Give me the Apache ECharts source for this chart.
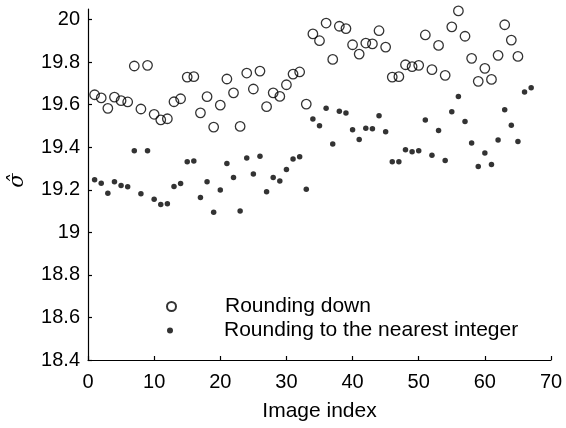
<!DOCTYPE html>
<html>
<head>
<meta charset="utf-8">
<script src="https://cdn.jsdelivr.net/npm/echarts@6/dist/echarts.min.js"></script>
<style>html,body{margin:0;padding:0;background:#fff}#c{width:566px;height:428px}</style>
</head>
<body>
<div id="c"></div>
<script>
const imageIndex = [1,2,3,4,5,6,7,8,9,10,11,12,13,14,15,16,17,18,19,20,21,22,23,24,25,26,27,28,29,30,31,32,33,34,35,36,37,38,39,40,41,42,43,44,45,46,47,48,49,50,51,52,53,54,55,56,57,58,59,60,61,62,63,64,65,66,67];
const roundingDown = [19.647,19.632,19.583,19.636,19.619,19.613,19.782,19.580,19.785,19.555,19.529,19.534,19.614,19.628,19.730,19.732,19.562,19.638,19.495,19.598,19.721,19.656,19.498,19.749,19.674,19.758,19.591,19.656,19.639,19.694,19.744,19.754,19.603,19.933,19.901,19.984,19.813,19.969,19.958,19.882,19.838,19.890,19.886,19.948,19.871,19.730,19.732,19.788,19.779,19.785,19.928,19.765,19.879,19.738,19.966,20.041,19.922,19.818,19.710,19.771,19.719,19.832,19.976,19.904,19.827,null,null];
const roundingNearest = [19.247,19.231,19.184,19.238,19.220,19.214,19.384,19.181,19.384,19.156,19.131,19.134,19.216,19.230,19.332,19.335,19.164,19.238,19.095,19.199,19.324,19.258,19.100,19.350,19.274,19.358,19.191,19.258,19.241,19.296,19.345,19.355,19.203,19.533,19.501,19.584,19.415,19.569,19.561,19.482,19.437,19.490,19.487,19.548,19.473,19.332,19.332,19.388,19.379,19.384,19.528,19.363,19.479,19.338,19.567,19.639,19.521,19.420,19.310,19.373,19.319,19.434,19.576,19.504,19.427,19.660,19.680];
const yTicks = [18.4,18.6,18.8,19,19.2,19.4,19.6,19.8,20];
const xTicks = [0,10,20,30,40,50,60,70];
const seriesNames = ['Rounding down','Rounding to the nearest integer'];

const font = 'Liberation Sans, Arial, Helvetica, sans-serif';
const pairs = arr => imageIndex.map((x,i)=>[x, arr[i]]).filter(p=>p[1]!=null);

const chart = echarts.init(document.getElementById('c'), null, {renderer:'canvas'});
chart.setOption({
  animation:false,
  backgroundColor:'#fff',
  grid:{left:88,right:15,top:9,bottom:68,outerBoundsMode:'none'},
  xAxis:{
    type:'value', min:xTicks[0], max:xTicks[xTicks.length-1], interval:10,
    name:'Image index', nameLocation:'middle', nameGap:41,
    nameTextStyle:{fontFamily:font,fontSize:21,color:'#000'},
    axisLine:{show:true,lineStyle:{color:'#000',width:1.2}},
    axisTick:{show:true,inside:true,length:4,lineStyle:{color:'#000',width:1.2}},
    axisLabel:{fontFamily:font,fontSize:20,color:'#000',margin:12},
    splitLine:{show:false}
  },
  yAxis:{
    type:'value', min:yTicks[0], max:20.05,
    name:'σ\u0302', nameLocation:'middle', nameGap:60,
    nameTextStyle:{fontFamily:'DejaVu Serif, serif',fontStyle:'italic',fontSize:21,color:'#000',padding:[0,0,0,8]},
    axisLine:{show:true,lineStyle:{color:'#000',width:1.2}},
    axisTick:{show:true,inside:true,length:4,lineStyle:{color:'#000',width:1.2},customValues:yTicks},
    axisLabel:{fontFamily:font,fontSize:20,color:'#000',margin:8,customValues:yTicks},
    splitLine:{show:false}
  },
  legend:[
    {data:[seriesNames[0]], left:166, top:296, padding:0, itemWidth:9, itemHeight:9,
     textStyle:{fontFamily:font,fontSize:21,color:'#000',padding:[0,0,0,44]}, selectedMode:false},
    {data:[seriesNames[1]], left:167, top:320, padding:0, itemWidth:6, itemHeight:6,
     textStyle:{fontFamily:font,fontSize:21,color:'#000',padding:[0,0,0,46]}, selectedMode:false}
  ],
  series:[
    {name:seriesNames[0], type:'scatter', symbol:'circle', symbolSize:9.5, clip:true,
     itemStyle:{color:'rgba(255,255,255,0)',borderColor:'#000',borderWidth:1.3},
     data:pairs(roundingDown)},
    {name:seriesNames[1], type:'scatter', symbol:'circle', symbolSize:5.5, clip:true,
     itemStyle:{color:'#000'},
     data:pairs(roundingNearest)}
  ]
});
</script>
</body>
</html>
